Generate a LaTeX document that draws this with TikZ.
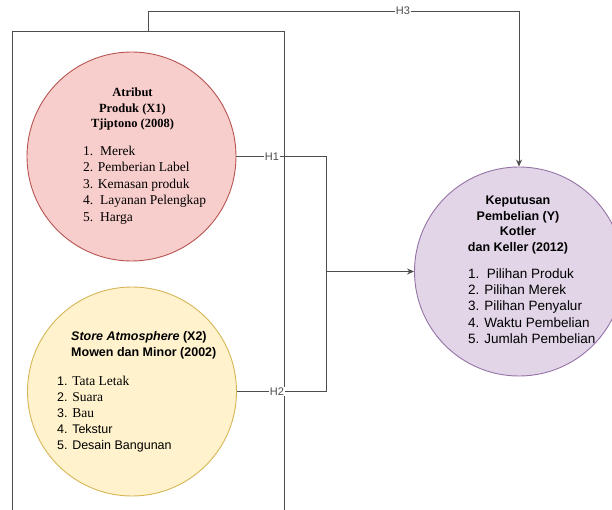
\documentclass[tikz,border=0pt]{standalone}
\usepackage{fontspec}
\setmainfont{Liberation Serif}
\setsansfont{Liberation Sans}
\usepackage{xcolor}
\usepackage{tikz}
\usetikzlibrary{arrows.meta,positioning}
\definecolor{redfill}{HTML}{F8CECC}
\definecolor{redline}{HTML}{B85450}
\definecolor{yelfill}{HTML}{FFF2CC}
\definecolor{yelline}{HTML}{D6B656}
\definecolor{purfill}{HTML}{E1D5E7}
\definecolor{purline}{HTML}{9673A6}
\definecolor{edgegray}{HTML}{4D4D4D}
\newcommand{\titlesize}{\fontsize{12.5}{15.5}\selectfont}
\newcommand{\listsize}{\fontsize{13.5}{16.4}\selectfont}

\begin{document}
\begin{tikzpicture}[x=1pt,y=-1pt,font=\sffamily]
    \tikzstyle{var}=[circle,draw,line width=0.9pt,minimum size=209pt,inner sep=0pt]
    \tikzstyle{txt}=[inner sep=0pt,text=black]
    \tikzstyle{lbl}=[fill=white,inner sep=1pt,text=edgegray,font=\sffamily\fontsize{11}{13}\selectfont]
    \tikzstyle{conn}=[draw=edgegray,line width=0.9pt]
    \useasboundingbox (0,0) rectangle (612,510);
    % frame round X1 and X2
    \coordinate (fbl) at (12,520);
    \coordinate (ftl) at (12,31);
    \coordinate (ftr) at (284,31);
    \coordinate (fbr) at (284,520);
    \draw[conn] (fbl) -- (ftl) -- (ftr) -- (fbr);
    % variables
    \node[var,fill=redfill,draw=redline] (x1) at (131.5,156.5) {};
    \node[var,fill=yelfill,draw=yelline] (x2) at (132,391.5) {};
    \node[var,fill=purfill,draw=purline] (y)  at (519,271.5) {};
    % texts
    \node[txt,font=\rmfamily\bfseries\titlesize,align=center] (x1t) at (132.5,109) {Atribut\\Produk (X1)\\Tjiptono (2008)};
    \node[txt,font=\rmfamily\listsize,align=left,anchor=west] (x1l) at (83,185)
      {1.\ \ Merek\\2. Pemberian Label\\3. Kemasan produk\\4.\ \ Layanan Pelengkap\\5.\ \ Harga};
    \node[txt,font=\sffamily\bfseries\titlesize,align=left,anchor=west] (x2t) at (71,345.5)
      {\textit{Store Atmosphere} (X2)\\Mowen dan Minor (2002)};
    \node[txt,font=\sffamily\fontsize{12.5}{16.1}\selectfont,align=left,anchor=west] (x2l) at (57,414)
      {1. {\rmfamily\fontsize{13.5}{16.1}\selectfont Tata Letak}\\2. {\rmfamily\fontsize{13.5}{16.1}\selectfont Suara}\\3. {\rmfamily\fontsize{13.5}{16.1}\selectfont Bau}\\4. Tekstur\\5. Desain Bangunan};
    \node[txt,font=\sffamily\bfseries\titlesize,align=center] (yt) at (518,225) {Keputusan\\Pembelian (Y)\\Kotler\\dan Keller (2012)};
    \node[txt,font=\sffamily\listsize,align=left,anchor=west] (yl) at (468,306)
      {1.\ \ Pilihan Produk\\2. Pilihan Merek\\3. Pilihan Penyalur\\4. Waktu Pembelian\\5. Jumlah Pembelian};
    % connectors
    \coordinate (j1) at (326,156.5);
    \coordinate (j2) at (326,391.5);
    \coordinate (jm) at (326,271.5);
    \coordinate (h3a) at (148,11);
    \coordinate (h3b) at (519,11);
    \draw[conn] (x1.east) -- (j1) -- (j2) -- (x2.east);
    \draw[conn,-{Stealth[length=7pt,width=6pt]}] (jm) -- (y.west);
    \draw[conn,-{Stealth[length=7pt,width=6pt]}] (148,31) -- (h3a) -- (h3b) -- (y.north);
    \node[lbl] (h1) at (272,156.5) {H1};
    \node[lbl] (h2) at (277,391.5) {H2};
    \node[lbl] (h3) at (403,11) {H3};
  \end{tikzpicture}
\end{document}
